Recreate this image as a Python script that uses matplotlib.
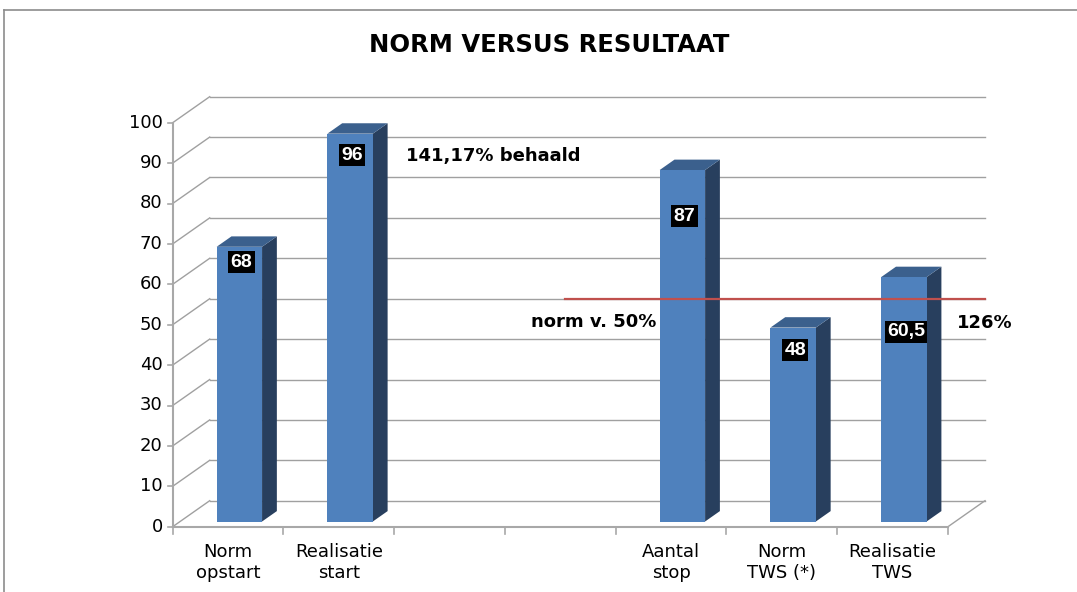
import matplotlib
matplotlib.use("Agg")
import matplotlib.pyplot as plt
from matplotlib.patches import Polygon
from matplotlib.lines import Line2D

# ---- data ----
categories = ["Norm\nopstart", "Realisatie\nstart", "", "", "Aantal\nstop", "Norm\nTWS (*)", "Realisatie\nTWS"]
values = [68, 96, None, None, 87, 48, 60.5]
value_labels = ["68", "96", "", "", "87", "48", "60,5"]
norm_value = 50
y_ticks = [0, 10, 20, 30, 40, 50, 60, 70, 80, 90, 100]
title = "NORM VERSUS RESULTAAT"

# ---- layout / style ----
W, H = 1077, 592
fig = plt.figure(figsize=(W / 100, H / 100), dpi=100)
plt.rcParams['font.family'] = ['DejaVu Sans']

x0_px, x1_px = 172.7, 948.0
y0_px, y100_px = 526.7, 122.7
ax = fig.add_axes([x0_px / W, (H - y0_px) / H, (x1_px - x0_px) / W, (y0_px - y100_px) / H])
n = len(categories)
ax.set_xlim(0, n)
ax.set_ylim(0, 100)
ax.axis('off')

px_per_cat = (x1_px - x0_px) / n
px_per_val = (y0_px - y100_px) / 100
DX = 37.0 / px_per_cat       # depth offset in category units
DY = 26.0 / px_per_val       # depth offset in value units

def P(x, y, z):
    return (x + z * DX, y + z * DY)

grid_c = '#a0a0a0'
axis_c = '#a8a8a8'
# back wall gridlines + side wall diagonals
for v in y_ticks:
    bx, by = P(n, v, 1)
    sx, sy = P(0, v, 1)
    ax.add_line(Line2D([sx, bx], [sy, by], color=grid_c, lw=1.0, clip_on=False, zorder=1))
    fx, fy = P(0, v, 0)
    ax.add_line(Line2D([fx, sx], [fy, sy], color=grid_c, lw=1.0, clip_on=False, zorder=1))
    ax.add_line(Line2D([-5 / px_per_cat, 0], [v, v], color=axis_c, lw=1.2, clip_on=False, zorder=2))
    ax.text(-10 / px_per_cat, v, str(v), ha='right', va='center', fontsize=13, color='black')

# floor right edge
a = P(n, 0, 0); b = P(n, 0, 1)
ax.add_line(Line2D([a[0], b[0]], [a[1], b[1]], color=grid_c, lw=1.0, clip_on=False, zorder=1))
# front axes
ax.add_line(Line2D([0, 0], [0, 100], color=axis_c, lw=1.5, clip_on=False, zorder=2))
ax.add_line(Line2D([0, n], [0, 0], color=axis_c, lw=1.5, clip_on=False, zorder=2))
for i in range(n + 1):
    ax.add_line(Line2D([i, i], [0, -7 / px_per_val], color=axis_c, lw=1.2, clip_on=False, zorder=2))
for i, c in enumerate(categories):
    if c:
        ax.text(i + 0.5, -16 / px_per_val, c, ha='center', va='top', fontsize=13,
                linespacing=1.2, color='black')

# bars (3D)
front_c = '#4f81bd'
side_c = '#283f5e'
top_c = '#3b608d'
bl, bw = 0.33, 0.41
zf, zb = 0.2, 0.6
for i, v in enumerate(values):
    if v is None:
        continue
    L, R = i + bl, i + bl + bw
    side = [P(R, 0, zf), P(R, 0, zb), P(R, v, zb), P(R, v, zf)]
    top = [P(L, v, zf), P(R, v, zf), P(R, v, zb), P(L, v, zb)]
    front = [P(L, 0, zf), P(R, 0, zf), P(R, v, zf), P(L, v, zf)]
    ax.add_patch(Polygon(side, closed=True, facecolor=side_c, edgecolor='none', zorder=3, clip_on=False))
    ax.add_patch(Polygon(top, closed=True, facecolor=top_c, edgecolor='none', zorder=3, clip_on=False))
    ax.add_patch(Polygon(front, closed=True, facecolor=front_c, edgecolor='none', zorder=4, clip_on=False))

# norm line on back wall
nx0 = 3.21
a = P(nx0, norm_value, 1); b = P(n, norm_value, 1)
ax.add_line(Line2D([a[0], b[0]], [a[1], b[1]], color='#c0504d', lw=1.6, clip_on=False, zorder=6))

# value labels (black boxes)
label_y = [65.5, 92.0, None, None, 76.9, 43.7, 48.2]
for i, (v, s) in enumerate(zip(values, value_labels)):
    if v is None:
        continue
    cx, _ = P(i + bl + bw / 2, 0, zf)
    ax.text(cx + 2 / px_per_cat, label_y[i], s, ha='center', va='center', fontsize=14,
            fontweight='bold', color='white', zorder=7, family=['Liberation Sans', 'DejaVu Sans'],
            bbox=dict(boxstyle='square,pad=0.12', facecolor='black', edgecolor='none'))

# annotations
ax.text(2.11, 91.7, "141,17% behaald", ha='left', va='center', fontsize=13,
        fontweight='bold', color='black', zorder=7)
ax.text(4.37, 50.6, "norm v. 50%", ha='right', va='center', fontsize=13,
        fontweight='bold', color='black', zorder=7)
ax.text(7.08, 50.3, "126%", ha='left', va='center', fontsize=13,
        fontweight='bold', color='black', zorder=7)

# title
fig.text(549 / W, 1 - 45 / H, title, ha='center', va='center', fontsize=17.5,
         fontweight='bold', color='black')

# outer frame (left and top)
fig.add_artist(Line2D([4 / W, 4 / W], [0, 1 - 10 / H], color='#8c8c8c', lw=1.2, transform=fig.transFigure))
fig.add_artist(Line2D([4 / W, 1], [1 - 10 / H, 1 - 10 / H], color='#8c8c8c', lw=1.2, transform=fig.transFigure))

fig.savefig("out.png", dpi=100)
